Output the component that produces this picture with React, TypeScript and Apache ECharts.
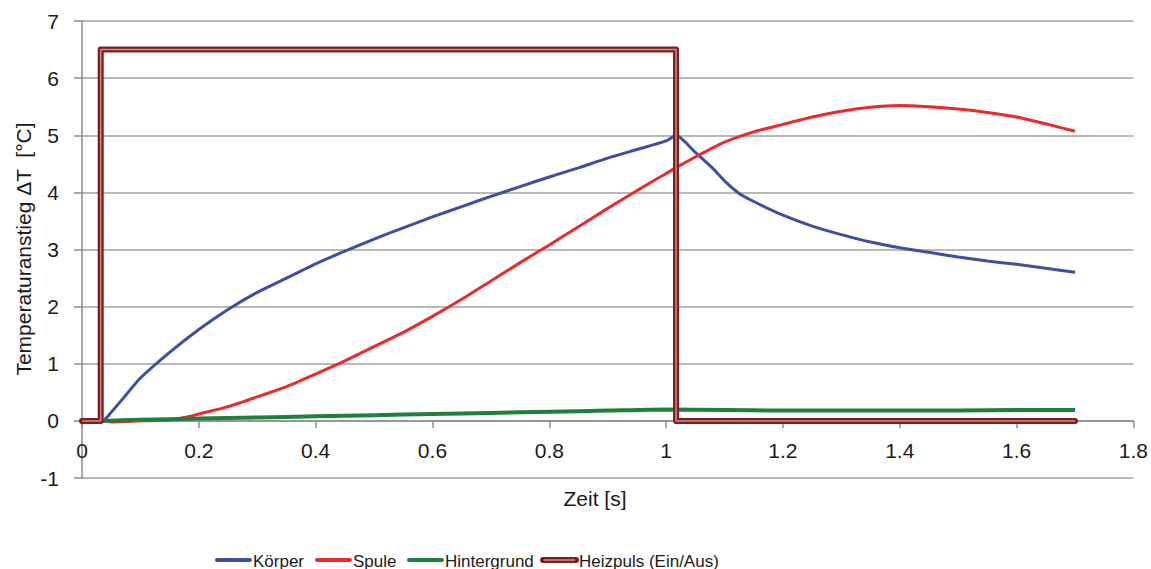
import { useEffect, useRef } from "react";
import * as echarts from "echarts";

// Zeitachse [s] und Temperaturanstieg ΔT [°C] je Messreihe
const koerperT = [0, 0.035, 0.05, 0.075, 0.1, 0.15, 0.2, 0.25, 0.3, 0.35, 0.4, 0.45, 0.5, 0.55, 0.6, 0.65, 0.7, 0.75, 0.8, 0.85, 0.9, 0.95, 1.0, 1.017, 1.05, 1.08, 1.1, 1.125, 1.15, 1.2, 1.25, 1.3, 1.35, 1.4, 1.45, 1.5, 1.55, 1.6, 1.65, 1.7];
const koerperDT = [0, 0, 0.15, 0.45, 0.75, 1.2, 1.6, 1.95, 2.25, 2.5, 2.75, 2.97, 3.18, 3.38, 3.57, 3.75, 3.93, 4.1, 4.27, 4.43, 4.6, 4.75, 4.9, 5.0, 4.7, 4.42, 4.2, 3.98, 3.84, 3.6, 3.41, 3.26, 3.13, 3.03, 2.95, 2.87, 2.8, 2.74, 2.67, 2.6];

const spuleT = [0.035, 0.05, 0.1, 0.15, 0.18, 0.2, 0.25, 0.3, 0.35, 0.4, 0.45, 0.5, 0.55, 0.6, 0.65, 0.7, 0.75, 0.8, 0.85, 0.9, 0.95, 1.0, 1.02, 1.05, 1.1, 1.15, 1.2, 1.25, 1.3, 1.35, 1.4, 1.45, 1.5, 1.55, 1.6, 1.65, 1.7];
const spuleDT = [0, -0.02, 0.0, 0.02, 0.07, 0.12, 0.25, 0.42, 0.6, 0.82, 1.05, 1.3, 1.55, 1.83, 2.13, 2.45, 2.77, 3.08, 3.4, 3.72, 4.03, 4.33, 4.45, 4.62, 4.88, 5.06, 5.19, 5.32, 5.42, 5.49, 5.52, 5.5, 5.46, 5.4, 5.32, 5.2, 5.07];

const hintergrundT = [0.035, 0.1, 0.2, 0.3, 0.4, 0.5, 0.6, 0.7, 0.8, 0.9, 1.0, 1.1, 1.2, 1.3, 1.4, 1.5, 1.6, 1.7];
const hintergrundDT = [0, 0.02, 0.04, 0.06, 0.08, 0.1, 0.12, 0.14, 0.16, 0.18, 0.2, 0.19, 0.18, 0.18, 0.18, 0.18, 0.19, 0.19];

const heizpulsT = [0, 0.032, 0.032, 1.017, 1.017, 1.7];
const heizpulsWert = [0, 0, 6.5, 6.5, 0, 0];

const seriesNames = ["Körper", "Spule", "Hintergrund", "Heizpuls (Ein/Aus)"];
const seriesColors = ["#3d4fa3", "#ec2a2c", "#1f7f3e", "#7e1d1d"];
const heizpulsInnen = "#cf8c8c";

const FONT = "'Liberation Sans', Arial, sans-serif";

// Diagrammfläche in Pixeln
const GRID = { left: 82, right: 16, top: 21, bottom: 91 };
const Y_MIN = -1;
const Y_MAX = 7;

const zip = (xs: number[], ys: number[]) => xs.map((x, i) => [x, ys[i]]);

export default function App() {
  const ref = useRef<HTMLDivElement>(null);

  useEffect(() => {
    if (!ref.current) return;
    const chart = echarts.init(ref.current, undefined, { renderer: "svg" });

    // x-Achse liegt auf ΔT = 0: Versatz gegenüber dem unteren Rand
    const plotH = 569 - GRID.top - GRID.bottom;
    const zeroOffset = -((0 - Y_MIN) / (Y_MAX - Y_MIN)) * plotH;

    // Legende unten: Linienstück + Beschriftung
    const legendLayout = [
      { x1: 217, x2: 250, tx: 253 },
      { x1: 317, x2: 350, tx: 353 },
      { x1: 409, x2: 442, tx: 445 },
      { x1: 543, x2: 576, tx: 579 },
    ];
    const legendY = 560;
    const legendGraphics: any[] = [];
    legendLayout.forEach((l, i) => {
      const isPuls = i === 3;
      legendGraphics.push({
        type: "line",
        shape: { x1: l.x1, y1: legendY, x2: l.x2, y2: legendY },
        style: { stroke: seriesColors[i], lineWidth: isPuls ? 6 : 4, lineCap: "round" },
      });
      if (isPuls) {
        legendGraphics.push({
          type: "line",
          shape: { x1: l.x1 + 1, y1: legendY, x2: l.x2 - 1, y2: legendY },
          style: { stroke: heizpulsInnen, lineWidth: 1.5 },
        });
      }
      legendGraphics.push({
        type: "text",
        x: l.tx,
        y: legendY + 1,
        style: {
          text: seriesNames[i],
          font: `17px ${FONT}`,
          fill: "#1a1a1a",
          textAlign: "left",
          textVerticalAlign: "middle",
        },
      });
    });

    const lineSeries = (i: number, xs: number[], ys: number[], width: number) => ({
      name: seriesNames[i],
      type: "line",
      data: zip(xs, ys),
      showSymbol: false,
      symbol: "none",
      smooth: 0.2,
      lineStyle: { color: seriesColors[i], width },
      z: 2 + i,
    });

    chart.setOption({
      animation: false,
      backgroundColor: "#ffffff",
      grid: GRID,
      xAxis: {
        type: "value",
        min: 0,
        max: 1.8,
        interval: 0.2,
        position: "bottom",
        offset: zeroOffset,
        axisLine: { onZero: false, lineStyle: { color: "#8c8c8c", width: 1.5 } },
        axisTick: { show: true, length: 7, lineStyle: { color: "#8c8c8c", width: 1.5 } },
        axisLabel: { margin: 19, fontSize: 21, fontFamily: FONT, color: "#1a1a1a" },
        splitLine: { show: false },
      },
      yAxis: {
        type: "value",
        min: Y_MIN,
        max: Y_MAX,
        interval: 1,
        axisLine: { show: true, onZero: false, lineStyle: { color: "#8c8c8c", width: 1.5 } },
        axisTick: { show: true, length: 8, lineStyle: { color: "#8c8c8c", width: 1.5 } },
        axisLabel: { margin: 23, fontSize: 21, fontFamily: FONT, color: "#1a1a1a" },
        splitLine: { show: true, lineStyle: { color: "#a0a0a0", width: 1.5 } },
      },
      graphic: [
        {
          type: "text",
          x: 23,
          y: 249,
          rotation: Math.PI / 2,
          style: {
            text: "Temperaturanstieg ΔT  [°C]",
            font: `21px ${FONT}`,
            fill: "#1a1a1a",
            textAlign: "center",
            textVerticalAlign: "middle",
          },
        },
        {
          type: "text",
          x: 595,
          y: 498,
          style: {
            text: "Zeit [s]",
            font: `21px ${FONT}`,
            fill: "#1a1a1a",
            textAlign: "center",
            textVerticalAlign: "middle",
          },
        },
        ...legendGraphics,
      ],
      series: [
        lineSeries(0, koerperT, koerperDT, 3),
        lineSeries(1, spuleT, spuleDT, 3),
        lineSeries(2, hintergrundT, hintergrundDT, 4),
        {
          name: seriesNames[3],
          type: "line",
          data: zip(heizpulsT, heizpulsWert),
          showSymbol: false,
          symbol: "none",
          lineStyle: { color: seriesColors[3], width: 6, join: "round", cap: "round" },
          z: 6,
        },
        {
          name: "Heizpuls innen",
          type: "line",
          data: zip(heizpulsT, heizpulsWert),
          showSymbol: false,
          symbol: "none",
          silent: true,
          lineStyle: { color: heizpulsInnen, width: 1.5 },
          z: 7,
        },
      ],
    });

    return () => chart.dispose();
  }, []);

  return (
    <div
      ref={ref}
      style={{ position: "fixed", left: 0, top: 0, width: 1151, height: 569 }}
    />
  );
}
